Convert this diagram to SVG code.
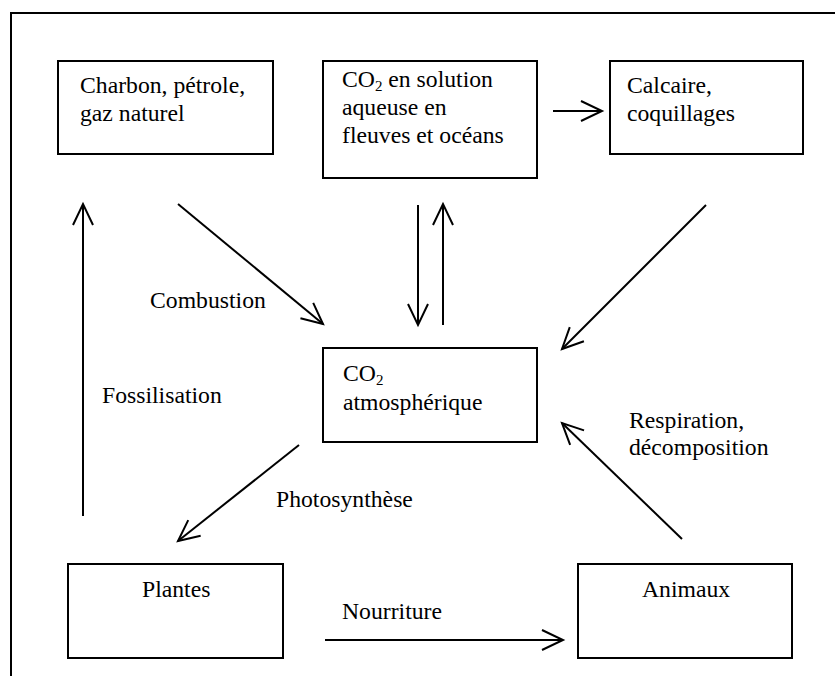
<svg xmlns="http://www.w3.org/2000/svg" width="835" height="676" viewBox="0 0 835 676">
<style>
.box{fill:#fff;stroke:#000;stroke-width:2}
.t{font-family:"Liberation Serif","Times New Roman",serif;font-size:23.7px;fill:#000}
.sub{font-size:15px}
.c{fill:none;stroke:#000;stroke-width:2;marker-end:url(#ah)}
</style>
<defs>
<marker id="ah" markerUnits="userSpaceOnUse" markerWidth="30" markerHeight="30" viewBox="-25 -15 30 30" refX="0" refY="0" orient="auto">
<path d="M-21,-10 L0,0 L-21,10" fill="none" stroke="#000" stroke-width="2"/>
</marker>
</defs>
<rect x="11" y="13" width="832" height="672" fill="#fff" stroke="#000" stroke-width="2"/>
<g id="charbon"><rect class="box" x="58" y="61" width="215" height="93"/><text class="t" x="80" y="93">Charbon, pétrole,</text><text class="t" x="80" y="121">gaz naturel</text></g>
<g id="solution"><rect class="box" x="323" y="61" width="214" height="117"/><text class="t" x="342" y="87">CO<tspan class="sub" dy="4">2</tspan><tspan dy="-4"> en solution</tspan></text><text class="t" x="342" y="115">aqueuse en</text><text class="t" x="342" y="143">fleuves et océans</text></g>
<g id="calcaire"><rect class="box" x="610" y="61" width="193" height="93"/><text class="t" x="627" y="93">Calcaire,</text><text class="t" x="627" y="121">coquillages</text></g>
<g id="atm"><rect class="box" x="323" y="348" width="214" height="94"/><text class="t" x="343" y="381">CO<tspan class="sub" dy="4">2</tspan></text><text class="t" x="343" y="410">atmosphérique</text></g>
<g id="plantes"><rect class="box" x="68" y="564" width="215" height="94"/><text class="t" x="142" y="597">Plantes</text></g>
<g id="animaux"><rect class="box" x="578" y="564" width="214" height="94"/><text class="t" x="642" y="597">Animaux</text></g>
<g id="connectors">
<line class="c" x1="553" y1="111" x2="602" y2="111"/>
<line class="c" x1="178" y1="204" x2="323" y2="324"/>
<line class="c" x1="418" y1="205" x2="418" y2="325"/>
<line class="c" x1="443" y1="325" x2="443" y2="204"/>
<line class="c" x1="706" y1="205" x2="562" y2="349"/>
<line class="c" x1="83" y1="516" x2="83" y2="204"/>
<line class="c" x1="299" y1="445" x2="178" y2="541"/>
<line class="c" x1="682" y1="539" x2="562" y2="423"/>
<line class="c" x1="325" y1="640" x2="563" y2="640"/>
</g>
<g id="labels">
<text class="t" x="150" y="308">Combustion</text>
<text class="t" x="102" y="403">Fossilisation</text>
<text class="t" x="276" y="507">Photosynthèse</text>
<text class="t" x="629" y="428">Respiration,</text>
<text class="t" x="629" y="455">décomposition</text>
<text class="t" x="342" y="619">Nourriture</text>
</g>
</svg>
